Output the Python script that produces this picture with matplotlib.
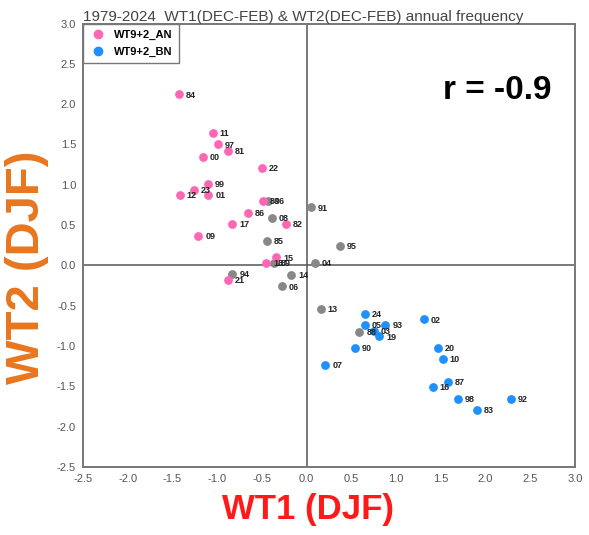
import matplotlib.pyplot as plt
import matplotlib.lines as mlines

plt.rcParams['font.family'] = ['Liberation Sans', 'DejaVu Sans']

# WT9+2 above normal years (pink)
an_years = ['84', '11', '97', '81', '00', '22', '99', '23', '12', '01',
            '80', '86', '17', '82', '09', '15', '18', '21']
an_wt1 = [-1.43, -1.05, -0.99, -0.88, -1.16, -0.50, -1.10, -1.26, -1.42, -1.10,
          -0.49, -0.66, -0.83, -0.23, -1.21, -0.34, -0.45, -0.88]
an_wt2 = [2.12, 1.64, 1.50, 1.42, 1.35, 1.21, 1.01, 0.94, 0.87, 0.87,
          0.80, 0.65, 0.52, 0.52, 0.37, 0.10, 0.03, -0.18]

# neutral years (gray)
nn_years = ['96', '91', '08', '85', '95', '04', '89', '94', '14', '06', '13', '88']
nn_wt1 = [-0.43, 0.05, -0.39, -0.44, 0.37, 0.09, -0.37, -0.83, -0.17, -0.28, 0.16, 0.59]
nn_wt2 = [0.80, 0.72, 0.59, 0.30, 0.24, 0.03, 0.03, -0.11, -0.12, -0.26, -0.54, -0.82]

# WT9+2 below normal years (blue)
bn_years = ['24', '05', '93', '03', '19', '02', '90', '07', '20', '10',
            '87', '16', '98', '92', '83']
bn_wt1 = [0.65, 0.65, 0.88, 0.75, 0.81, 1.31, 0.54, 0.21, 1.47, 1.52,
          1.58, 1.41, 1.69, 2.28, 1.90]
bn_wt2 = [-0.60, -0.74, -0.74, -0.81, -0.88, -0.67, -1.02, -1.23, -1.02, -1.16,
          -1.44, -1.51, -1.66, -1.66, -1.79]

xticks = [-2.5, -2.0, -1.5, -1.0, -0.5, 0.0, 0.5, 1.0, 1.5, 2.0, 2.5, 3.0]
yticks = [-2.5, -2.0, -1.5, -1.0, -0.5, 0.0, 0.5, 1.0, 1.5, 2.0, 2.5, 3.0]

pink = '#ff66b3'
blue = '#1e90ff'
gray = '#888888'

fig = plt.figure(figsize=(5.89, 5.35), dpi=100)
ax = fig.add_axes([0.1409, 0.1271, 0.8353, 0.8289])

ax.axhline(0, color='#555555', lw=1.1, zorder=1)
ax.axvline(0, color='#555555', lw=1.1, zorder=1)

ms = 40
ax.scatter(nn_wt1, nn_wt2, s=ms, color=gray, linewidths=0, zorder=3)
ax.scatter(an_wt1, an_wt2, s=ms, color=pink, linewidths=0, zorder=4)
ax.scatter(bn_wt1, bn_wt2, s=ms, color=blue, linewidths=0, zorder=5)

for yrs, xs, ys in [(nn_years, nn_wt1, nn_wt2), (an_years, an_wt1, an_wt2),
                    (bn_years, bn_wt1, bn_wt2)]:
    for lab, x, y in zip(yrs, xs, ys):
        ax.annotate(lab, (x, y), xytext=(5, -0.5), textcoords='offset points',
                    fontsize=6.5, fontweight='bold', color='#222222',
                    va='center', ha='left', zorder=6)

ax.set_xlim(-2.5, 3.0)
ax.set_ylim(-2.5, 3.0)
ax.set_xticks(xticks)
ax.set_yticks(yticks)
ax.set_xticklabels([f'{v:.1f}' for v in xticks])
ax.set_yticklabels([f'{v:.1f}' for v in yticks])
ax.tick_params(length=0, labelsize=8, labelcolor='#555555', pad=5)
for sp in ax.spines.values():
    sp.set_color('#777777')
    sp.set_linewidth(1.4)

ax.set_title('1979-2024  WT1(DEC-FEB) & WT2(DEC-FEB) annual frequency',
             loc='left', fontsize=11, color='#444444', pad=2)

h_an = mlines.Line2D([], [], marker='o', ls='', color=pink, markersize=6)
h_bn = mlines.Line2D([], [], marker='o', ls='', color=blue, markersize=6)
leg = ax.legend([h_an, h_bn], ['WT9+2_AN', 'WT9+2_BN'], loc='upper left',
                borderaxespad=0, fancybox=False, framealpha=1,
                edgecolor='#777777', prop={'weight': 'bold', 'size': 8},
                handletextpad=0.7, handlelength=1.5, borderpad=0.6,
                labelspacing=0.55)
leg.get_frame().set_linewidth(1.0)

ax.text(0.953, 0.85, 'r = -0.9', transform=ax.transAxes, ha='right', va='center',
        fontsize=24, fontweight='bold', color='black')

fig.text(0.523, 0.047, 'WT1 (DJF)', ha='center', va='center', fontsize=25,
         fontweight='bold', color='#ff1a1a')
fig.text(0.045, 0.5, 'WT2 (DJF)', ha='center', va='center', fontsize=34,
         fontweight='bold', color='#e8761e', rotation=90)

fig.savefig('out.png', dpi=100)
